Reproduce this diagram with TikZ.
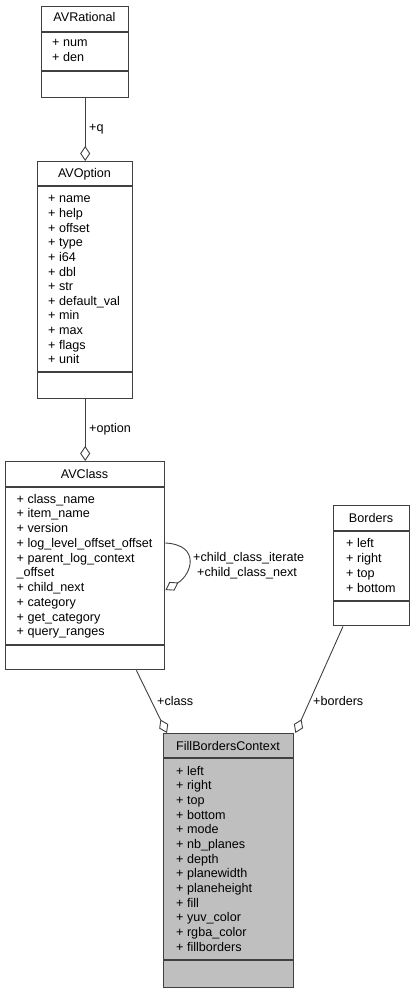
\documentclass[tikz,border=0pt]{standalone}
\usepackage{fontspec}
\setmainfont{Liberation Sans}
\usetikzlibrary{arrows.meta}
\definecolor{edge}{RGB}{64,64,64}
\definecolor{focus}{RGB}{191,191,191}
\begin{document}
\begin{tikzpicture}[x=1pt,y=-1pt,
  every node/.style={font=\fontsize{12.6}{14.7}\selectfont, inner sep=0pt, text=black},
  classbox/.style={draw=edge, line width=1.4pt, fill=white, anchor=north west, inner sep=0pt},
  sepline/.style={draw=edge, line width=1.4pt},
  member/.style={anchor=base west},
  title/.style={anchor=base},
  assoc/.style={draw=edge, line width=0.9pt, -{Diamond[open, length=15pt, width=10pt, line width=0.9pt]}},
  rolelabel/.style={anchor=base west}]
\useasboundingbox[fill=white] (0,0) rectangle (414,992);

% AVRational
\node[classbox, minimum width=87pt, minimum height=91pt] (avr) at (41,6) {};
\draw[sepline] (41,32) -- (128,32) (41,71) -- (128,71);
\node[title] (avr-t) at (84.5,22) {AVRational};
\foreach \t [count=\i from 0] in {num, den}
  \node[member] (avr-m\i) at (52,{47+14.7*\i}) {+ \t};

% AVOption
\node[classbox, minimum width=95pt, minimum height=237pt] (avo) at (37,161) {};
\draw[sepline] (37,186) -- (132,186) (37,372) -- (132,372);
\node[title] (avo-t) at (84.5,178) {AVOption};
\foreach \t [count=\i from 0] in {name, help, offset, type, i64, dbl, str, default\_val, min, max, flags, unit}
  \node[member] (avo-m\i) at (48,{203+14.6*\i}) {+ \t};

% AVClass
\node[classbox, minimum width=159pt, minimum height=208pt] (avc) at (5,461) {};
\draw[sepline] (5,487) -- (164,487) (5,645) -- (164,645);
\node[title] (avc-t) at (84.5,478) {AVClass};
\foreach \t [count=\i from 0] in {+ class\_name, + item\_name, + version, + log\_level\_offset\_offset, + parent\_log\_context, \_offset, + child\_next, + category, + get\_category, + query\_ranges}
  \node[member] (avc-m\i) at (16.5,{503+14.75*\i}) {\t};

% Borders
\node[classbox, minimum width=76pt, minimum height=120pt] (bor) at (333,505) {};
\draw[sepline] (333,531) -- (409,531) (333,601) -- (409,601);
\node[title] (bor-t) at (371,522) {Borders};
\foreach \t [count=\i from 0] in {left, right, top, bottom}
  \node[member] (bor-m\i) at (346,{547+15*\i}) {+ \t};

% FillBordersContext
\node[classbox, fill=focus, minimum width=130pt, minimum height=254pt] (fbc) at (163,733) {};
\draw[sepline] (163,758) -- (293,758) (163,960) -- (293,960);
\node[title] (fbc-t) at (228,750) {FillBordersContext};
\foreach \t [count=\i from 0] in {left, right, top, bottom, mode, nb\_planes, depth, planewidth, planeheight, fill, yuv\_color, rgba\_color, fillborders}
  \node[member] (fbc-m\i) at (176,{775+14.67*\i}) {+ \t};

% associations
\draw[assoc] (avr.south) -- (avo.north);
\node[rolelabel] (lq) at (89,132) {+q};
\draw[assoc] (avo.south) -- (avc.north);
\node[rolelabel] (lopt) at (89,432) {+option};
\draw[assoc] ([yshift=-82pt]avc.north east) .. controls +(36,2) and +(26,-15) .. ([yshift=-129pt]avc.north east);
\node[rolelabel] (lit) at (193,561) {+child\_class\_iterate};
\node[rolelabel] (lnx) at (197,576) {+child\_class\_next};
\draw[assoc] ([xshift=-29pt]avc.south east) -- ([xshift=4pt]fbc.north west);
\node[rolelabel] (lcls) at (157,705) {+class};
\draw[assoc] ([xshift=10pt]bor.south west) -- ([xshift=1pt]fbc.north east);
\node[rolelabel] (lbor) at (313,705) {+borders};
\end{tikzpicture}
\end{document}
